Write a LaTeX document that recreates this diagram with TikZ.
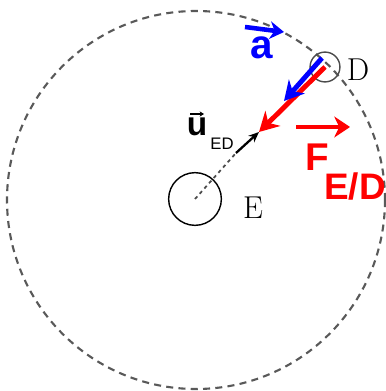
\documentclass[tikz,border=0pt]{standalone}
\usepackage{fontspec}
\newfontfamily\arial{Liberation Sans}
\usetikzlibrary{arrows.meta}
\definecolor{vred}{RGB}{255,0,0}
\definecolor{vblue}{RGB}{0,0,255}
\begin{document}
\begin{tikzpicture}[x=0.02cm,y=-0.02cm,>={Stealth[length=11pt,width=12pt]},thick]
        \useasboundingbox (0,0) rectangle (385,391);
        \draw[gray!70!black, line width=1.2pt, dash pattern=on 4pt off 3pt] (196,200) circle (189);
        \node (E) [draw, circle, minimum size=30pt, inner sep=0pt, line width=0.8pt] at (195,199) {};
        \node (D) [draw, circle, minimum size=17pt, inner sep=0pt, line width=0.8pt, gray!60!black] at (325,67) {};
        \coordinate (u0) at (236,153);
        \coordinate (u1) at (259,132);
        \coordinate (a1) at (284,101);
        \draw[gray!60!black, dash pattern=on 2pt off 2pt, line width=1pt] (E.center) -- (u0);
        \draw[->, line width=1.3pt, >={Stealth[length=6pt,width=5pt]}] (u0) -- (u1);
        \draw[->, vred, line width=2.8pt] (D.center) -- (u1);
        \draw[->, vblue, line width=2.8pt] (322,58) -- (a1);
        \node (D-lbl) at (358,70) {\fontsize{18}{18}\selectfont D};
        \node (E-lbl) at (253,208) {\fontsize{18}{18}\selectfont E};
        \node (a-lbl) [vblue] at (262,48) {\arial\bfseries\fontsize{23}{23}\selectfont a};
        \draw[->, vblue, line width=2.6pt, >={Stealth[length=8pt,width=10pt]}] (245,27) -- (284,32);
        \node (u-lbl) at (197,127) {\arial\bfseries\fontsize{19}{19}\selectfont u};
        \draw[->, line width=1pt, >={Stealth[length=2.5pt,width=3pt]}] (190,114) -- (204,114);
        \node (ED-lbl) at (222,144) {\arial\fontsize{9.5}{9.5}\selectfont ED};
        \node (F-lbl) [vred] at (317,157) {\arial\bfseries\fontsize{22}{22}\selectfont F};
        \node (ED2-lbl) [vred] at (355,187) {\arial\bfseries\fontsize{21}{21}\selectfont E/D};
        \draw[->, vred, line width=2.6pt, >={Stealth[length=9pt,width=12pt]}] (296,127) -- (350,127);
    \end{tikzpicture}
\end{document}
